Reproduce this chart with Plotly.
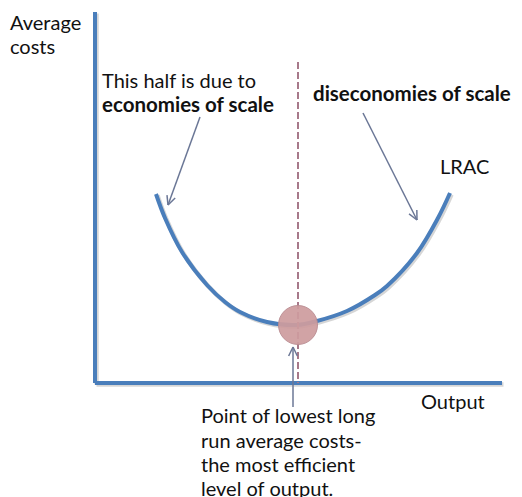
import math
import plotly.graph_objects as go

# ---- data (diagram units: 1 unit = 1 px, origin at axes corner) ----
lrac_x = [61, 70, 87, 112, 130, 145, 172, 202, 222, 252, 280, 292, 322, 343, 355]
lrac_y = [189, 165, 131, 98, 81, 71, 61, 58, 62, 72, 88, 97, 130, 165, 190]

yaxis_line_x = [0, 0]
yaxis_line_y = [371, 0]
xaxis_line_x = [0, 407]
xaxis_line_y = [0, 0]

min_point_x = [203]
min_point_y = [58]

efficient_output_x = [203, 203]
efficient_output_y = [321, 0]

# arrows: (tail_x, tail_y, head_x, head_y)
arrows = [
    (105, 266, 73, 178),
    (268, 270, 322, 163),
    (198, -24, 198, 36),
]

# (text, x, y, bold)
labels = [
    ("Average", -83, 361, False),
    ("costs", -83, 337, False),
    ("This half is due to", 9, 303, False),
    ("economies of scale", 9, 279, True),
    ("diseconomies of scale", 220, 290, True),
    ("LRAC", 347, 217, False),
    ("Output", 328, -18, False),
    ("Point of lowest long", 108, -32, False),
    ("run average costs-", 108, -57, False),
    ("the most efficient", 108, -81, False),
    ("level of output.", 108, -105, False),
]

FONT = "Lato"
BLUE = "#4a7ebb"
ARROW = "#6b7796"
PAGE_OFFSET = 8  # default body margin of the html page

fig = go.Figure()

# shadows
for xs, ys in [(lrac_x, lrac_y), (yaxis_line_x, yaxis_line_y), (xaxis_line_x, xaxis_line_y)]:
    fig.add_trace(go.Scatter(x=[v + 1.5 for v in xs], y=[v - 1.5 for v in ys], mode="lines",
                             line=dict(color="rgba(0,0,0,0.16)", width=4.5,
                                       shape="spline" if xs is lrac_x else "linear", smoothing=1.0),
                             hoverinfo="skip"))

fig.add_trace(go.Scatter(x=yaxis_line_x, y=yaxis_line_y, mode="lines", line=dict(color=BLUE, width=4)))
fig.add_trace(go.Scatter(x=xaxis_line_x, y=xaxis_line_y, mode="lines", line=dict(color=BLUE, width=4)))
fig.add_trace(go.Scatter(x=lrac_x, y=lrac_y, mode="lines",
                         line=dict(color=BLUE, width=4, shape="spline", smoothing=1.0)))

fig.add_trace(go.Scatter(x=efficient_output_x, y=efficient_output_y, mode="lines",
                         line=dict(color="#a7798a", width=2, dash="7px,3px")))

fig.add_trace(go.Scatter(x=min_point_x, y=min_point_y, mode="markers",
                         marker=dict(size=39, color="rgba(206,156,158,0.93)",
                                     line=dict(color="rgba(185,140,145,0.9)", width=1))))

for tx, ty, hx, hy in arrows:
    fig.add_trace(go.Scatter(x=[tx, hx], y=[ty, hy], mode="lines", line=dict(color=ARROW, width=1.5)))
    ang = math.atan2(ty - hy, tx - hx)
    L = 10
    pts_x, pts_y = [], []
    for d in (0.45, -0.45):
        pts_x += [hx + L * math.cos(ang + d), hx, None]
        pts_y += [hy + L * math.sin(ang + d), hy, None]
    fig.add_trace(go.Scatter(x=pts_x, y=pts_y, mode="lines", line=dict(color=ARROW, width=1.5)))

for text, x, y, bold in labels:
    fig.add_annotation(x=x - 4, y=y, text=f"<b>{text}</b>" if bold else text, showarrow=False,
                       xanchor="left", yanchor="middle", align="left",
                       font=dict(family=FONT, size=20.5 if bold else 20, color="#111111"))

fig.update_layout(
    width=522, height=497, margin=dict(l=0, r=0, t=0, b=0),
    paper_bgcolor="white", plot_bgcolor="white", showlegend=False,
    xaxis=dict(range=[-95 + PAGE_OFFSET, 427 + PAGE_OFFSET], visible=False, fixedrange=True),
    yaxis=dict(range=[-114 - PAGE_OFFSET, 383 - PAGE_OFFSET], visible=False, fixedrange=True),
)

fig.write_html("out.html")
